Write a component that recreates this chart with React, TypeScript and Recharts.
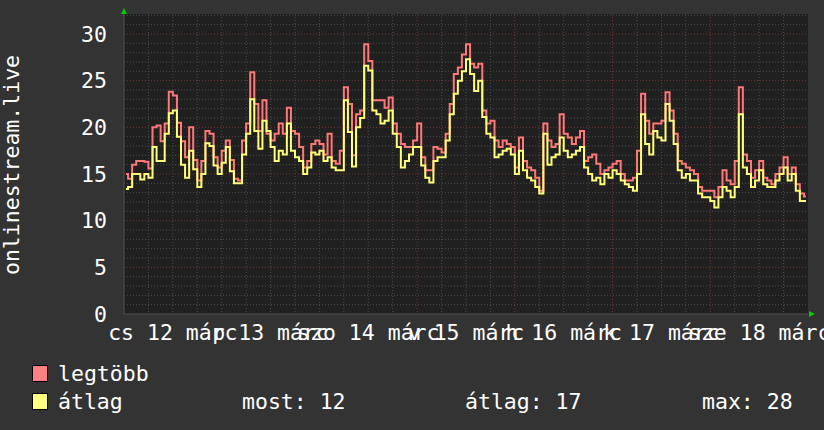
import React from "react";
import { LineChart, Line, XAxis, YAxis, CartesianGrid } from "recharts";

// hourly samples, Thu 12 Mar 00:00 -> Thu 19 Mar 00:00
const maxValues = [
  15.0, 14.5, 16.0, 16.4, 16.4, 16.3, 15.6, 20.0, 20.2, 18.5, 20.4, 23.8, 23.4, 20.5, 18.5, 16.8,
  20.0, 16.5, 14.3, 16.4, 19.6, 19.3, 16.8, 15.7, 17.5, 18.6, 16.5, 14.5, 14.3, 18.6, 20.4, 25.9,
  22.5, 19.6, 22.9, 19.3, 18.6, 19.3, 20.4, 19.3, 22.1, 19.6, 19.3, 17.9, 15.7, 16.4, 18.2, 18.6,
  18.2, 17.1, 19.3, 16.4, 16.1, 17.5, 24.3, 22.5, 17.0, 21.4, 21.8, 28.9, 27.1, 22.9, 22.9, 22.9,
  22.1, 23.2, 20.4, 19.3, 18.2, 17.9, 17.9, 18.6, 20.4, 16.8, 15.4, 15.4, 17.9, 17.7, 17.3, 19.3,
  22.5, 25.7, 26.4, 27.8, 28.9, 26.8, 26.4, 26.8, 21.8, 20.4, 20.7, 18.6, 17.9, 18.6, 18.2, 17.9,
  15.7, 18.9, 16.4, 15.7, 15.4, 14.6, 13.2, 20.4, 18.6, 17.9, 18.2, 21.4, 19.3, 18.9, 18.2, 18.9,
  19.6, 16.4, 16.8, 17.1, 16.1, 15.0, 15.4, 15.7, 16.1, 16.4, 15.0, 14.3, 14.3, 14.6, 17.5, 23.6,
  20.7, 19.3, 20.4, 20.4, 20.7, 23.75, 21.8, 19.3, 16.4, 16.1, 15.7, 15.4, 15.0, 13.6, 13.2, 13.2,
  13.2, 12.5, 13.6, 15.4, 14.3, 13.9, 16.4, 24.3, 17.1, 16.4, 14.6, 15.4, 16.4, 14.6, 14.3, 13.9,
  15.0, 15.7, 16.8, 15.0, 15.7, 13.9, 12.9, 12.6,
];

const avgValues = [
  13.4, 13.6, 15.0, 15.0, 14.4, 15.0, 14.6, 17.9, 16.4, 16.4, 19.3, 21.5, 21.8, 19.0, 16.0, 14.6,
  17.5, 15.5, 13.6, 15.0, 18.3, 18.0, 15.9, 15.0, 16.2, 17.9, 15.3, 14.0, 14.0, 17.1, 19.3, 23.0,
  19.6, 17.7, 20.7, 19.6, 17.9, 16.4, 17.5, 17.1, 20.4, 17.5, 16.8, 16.4, 15.0, 15.7, 17.3, 17.1,
  17.5, 16.4, 16.8, 15.7, 15.4, 15.4, 22.9, 19.5, 15.8, 20.0, 21.0, 26.6, 26.1, 21.8, 21.4, 20.4,
  20.7, 21.8, 19.3, 17.9, 15.7, 16.4, 17.1, 17.9, 17.9, 15.9, 14.6, 14.1, 16.4, 16.8, 16.8, 18.6,
  21.4, 23.6, 25.0, 26.0, 27.3, 25.7, 23.9, 25.0, 21.1, 19.3, 18.9, 16.8, 17.1, 17.5, 17.7, 17.1,
  15.0, 17.5, 15.4, 14.6, 14.3, 13.6, 12.9, 19.3, 16.0, 16.8, 17.1, 18.9, 17.5, 16.8, 17.1, 17.5,
  17.9, 15.7, 15.0, 14.3, 14.6, 13.9, 15.0, 14.6, 15.4, 15.0, 14.3, 13.9, 13.6, 13.2, 15.0, 21.4,
  18.2, 17.1, 19.6, 18.9, 18.6, 22.5, 20.7, 18.2, 15.4, 14.6, 15.0, 14.3, 14.3, 12.9, 12.5, 12.5,
  12.1, 11.4, 12.5, 13.6, 13.2, 12.5, 13.6, 21.4, 15.7, 15.0, 13.6, 14.3, 15.4, 13.9, 13.6, 13.6,
  14.3, 15.0, 15.7, 14.3, 15.0, 13.2, 12.1, 12.1,
];

const dayTicks = [12, 36, 60, 84, 108, 132, 156];
const dayLabels = ["cs 12 márc", "p 13 márc", "szo 14 márc", "v 15 márc", "h 16 márc", "k 17 márc", "sze 18 márc"];
const yTicks = [0, 5, 10, 15, 20, 25, 30];
const minorY = [1, 2, 3, 4, 6, 7, 8, 9, 11, 12, 13, 14, 16, 17, 18, 19, 21, 22, 23, 24, 26, 27, 28, 29, 31, 32];
const majorY = [5, 10, 15, 20, 25, 30];
const minorX = [6, 12, 18, 30, 36, 42, 54, 60, 66, 78, 84, 90, 102, 108, 114, 126, 132, 138, 150, 156, 162];
const majorX = [24, 48, 72, 96, 120, 144];

const legendItems = [
  { name: "legtöbb", color: "#ff8080" },
  { name: "átlag", color: "#ffff80" },
];

const FONT = "'DejaVu Sans Mono', monospace";

const data = maxValues.map((v, i) => ({ t: i + 0.5, max: v, avg: avgValues[i] }));

function XTick({ x, payload }: any) {
  const idx = dayTicks.indexOf(payload.value);
  return (
    <text x={x} y={340} textAnchor="middle" fill="#ffffff" fontFamily={FONT} fontSize={21.5}>
      {dayLabels[idx]}
    </text>
  );
}

function YTick({ y, payload }: any) {
  return (
    <text x={107} y={y} dy="0.36em" textAnchor="end" fill="#ffffff" fontFamily={FONT} fontSize={21.5}>
      {payload.value}
    </text>
  );
}

export default function App() {
  return (
    <div style={{ position: "fixed", left: 0, top: 0, width: 824, height: 430, background: "#333333", overflow: "hidden" }}>
      <LineChart width={824} height={430} data={data} margin={{ top: 14, right: 16, bottom: 86, left: 64 }}>
        <CartesianGrid
          fill="#202020"
          stroke="#4c4c4c"
          strokeDasharray="1 2"
          horizontalValues={minorY}
          verticalValues={minorX}
        />
        <CartesianGrid
          stroke="#7a3434"
          strokeDasharray="1 2"
          horizontalValues={majorY}
          verticalValues={majorX}
        />
        <XAxis
          dataKey="t"
          type="number"
          domain={[0, 168]}
          ticks={dayTicks}
          interval={0}
          height={30}
          tick={<XTick />}
          tickLine={false}
          axisLine={{ stroke: "#505050" }}
          allowDataOverflow
        />
        <YAxis
          type="number"
          domain={[0, 32.14]}
          ticks={yTicks}
          interval={0}
          width={60}
          tick={<YTick />}
          tickLine={false}
          axisLine={{ stroke: "#505050" }}
          allowDataOverflow
        />
        <Line type="step" dataKey="max" stroke="#ff7878" strokeWidth={2} dot={false} isAnimationActive={false} />
        <Line type="step" dataKey="avg" stroke="#ffff78" strokeWidth={2} dot={false} isAnimationActive={false} />
      </LineChart>

      <svg width={824} height={430} style={{ position: "absolute", left: 0, top: 0, pointerEvents: "none" }}>
        <text
          x={0}
          y={0}
          transform="translate(19 165) rotate(-90)"
          textAnchor="middle"
          fill="#ffffff"
          fontFamily={FONT}
          fontSize={21.5}
        >
          onlinestream.live
        </text>
        <polygon points="121,14 127,14 124,8" fill="#00cc00" />
        <polygon points="809,311 809,317 815,314" fill="#00cc00" />
      </svg>

      {legendItems.map((item, i) => (
        <div key={item.name} style={{ position: "absolute", left: 32, top: 365 + i * 28, display: "flex", alignItems: "center" }}>
          <span style={{ width: 14, height: 15, background: item.color, border: "1px solid #000", display: "inline-block" }} />
        </div>
      ))}
      <svg width={824} height={430} style={{ position: "absolute", left: 0, top: 0, pointerEvents: "none" }}>
        {legendItems.map((item, i) => (
          <text key={item.name} x={58} y={381 + i * 28} fill="#ffffff" fontFamily={FONT} fontSize={21.5}>
            {item.name}
          </text>
        ))}
        <text x={242} y={409} fill="#ffffff" fontFamily={FONT} fontSize={21.5}>most: 12</text>
        <text x={465} y={409} fill="#ffffff" fontFamily={FONT} fontSize={21.5}>átlag: 17</text>
        <text x={702} y={409} fill="#ffffff" fontFamily={FONT} fontSize={21.5}>max: 28</text>
      </svg>
    </div>
  );
}
